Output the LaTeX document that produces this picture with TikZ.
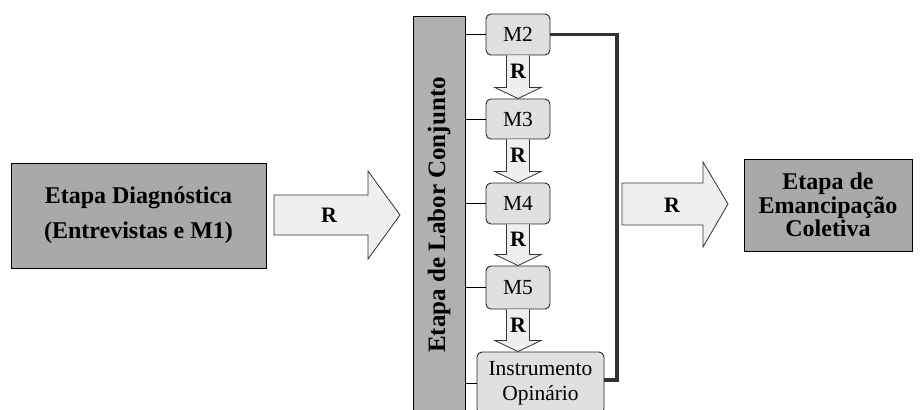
\documentclass[tikz,border=0pt]{standalone}
\usepackage{fontspec}
\setmainfont{Liberation Serif}
\usetikzlibrary{calc}
\definecolor{boxgray}{HTML}{A9A9A9}
\definecolor{bargray}{HTML}{B0B0B0}
\definecolor{mgray}{HTML}{E0E0E0}
\definecolor{arrgray}{HTML}{EFEFEF}
\definecolor{railgray}{HTML}{333333}
\begin{document}
\begin{tikzpicture}[x=1pt,y=-1pt,
  graybox/.style={draw=black, fill=boxgray, line width=1pt, inner sep=0pt, align=center},
  mbox/.style={draw=black!85, fill=mgray, rounded corners=5pt, line width=0.9pt, inner sep=0pt, align=center,
    font=\fontsize{21.5}{25}\selectfont},
  bigarrow/.style={draw=black!80, fill=arrgray, line width=0.8pt},
  rlabel/.style={font=\fontsize{22}{24}\selectfont\bfseries, inner sep=0pt},
  link/.style={draw=black, line width=0.8pt},
  rail/.style={draw=railgray, line width=3.5pt}]
\useasboundingbox (0,0) rectangle (922,410);
\clip (0,0) rectangle (922,410);
\fill[white] (0,0) rectangle (922,410);

% main boxes
\node[graybox, minimum width=255pt, minimum height=105pt, font=\fontsize{24}{35}\selectfont\bfseries]
  (diag) at (138.5,215.5) {Etapa Diagnóstica\\(Entrevistas e M1)};
\node[graybox, fill=bargray, rotate=90, minimum width=398pt, minimum height=52pt, font=\fontsize{25}{27}\selectfont\bfseries]
  (bar) at (439,215) {Etapa de Labor Conjunto};
\node[graybox, minimum width=168pt, minimum height=92pt, font=\fontsize{24}{23.5}\selectfont\bfseries]
  (emanc) at (828,205) {Etapa de\\Emancipação\\Coletiva};

% module boxes
\node[mbox, minimum width=64pt, minimum height=41pt] (m2) at (518,34.5) {M2};
\node[mbox, minimum width=64pt, minimum height=40pt] (m3) at (518,119) {M3};
\node[mbox, minimum width=64pt, minimum height=41pt] (m4) at (518,203.5) {M4};
\node[mbox, minimum width=64pt, minimum height=43pt] (m5) at (518,287.5) {M5};
\node[mbox, minimum width=127pt, minimum height=62pt] (instr) at (540.5,383) {Instrumento\\Opinário};

% links from bar
\coordinate (barR) at (465,0);
\foreach \b in {m2,m3,m4,m5,instr}
  \draw[link] (barR |- \b.west) -- (\b.west);

% down arrows labelled R
\newcommand{\rdown}[2]{%
  \coordinate (tip) at (#1.south |- #2.north);
  \draw[bigarrow] ($(#1.south)+(-11.5,0)$) -- ($(tip)+(-11.5,-11)$) -- ($(tip)+(-23,-11)$)
    -- (tip) -- ($(tip)+(23,-11)$) -- ($(tip)+(11.5,-11)$) -- ($(#1.south)+(11.5,0)$);
  \node[rlabel] at ($(#1.south)!0.5!($(tip)+(0,-11)$)$) {R};}
\rdown{m2}{m3}
\rdown{m3}{m4}
\rdown{m4}{m5}
\rdown{m5}{instr}

% big arrows
\draw[bigarrow] (274,195) -- (368,195) -- (368,171) -- (400,215) -- (368,259) -- (368,235) -- (274,235) -- cycle;
\node[rlabel] (r1) at (329,215) {R};
\draw[bigarrow] (622,183) -- (703,183) -- (703,162) -- (728,204) -- (703,247) -- (703,225) -- (622,225) -- cycle;
\node[rlabel] (r2) at (672,205) {R};

% rail
\coordinate (railx) at (617,0);
\coordinate (instrR) at ($(instr.east)+(0,-3)$);
\draw[rail] (m2.east) -- (m2.east -| railx) -- (railx |- instrR) -- (instrR);
\end{tikzpicture}
\end{document}
